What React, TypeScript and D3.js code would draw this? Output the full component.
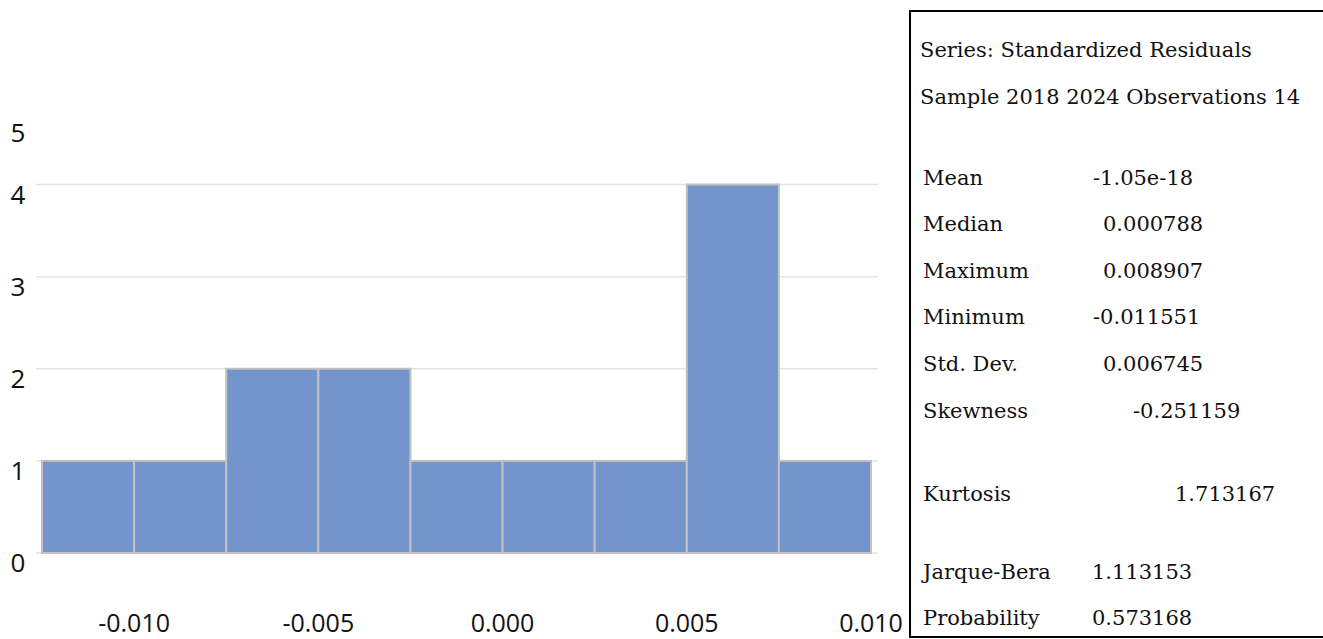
import React from "react";
import * as d3 from "d3";

// Histogram bins (residual value ranges) and counts
const binEdges = [-0.0125, -0.01, -0.0075, -0.005, -0.0025, 0, 0.0025, 0.005, 0.0075, 0.01];
const counts = [1, 1, 2, 2, 1, 1, 1, 4, 1];
const xTicks = [-0.01, -0.005, 0, 0.005, 0.01];
const xTickLabels = ["-0.010", "-0.005", "0.000", "0.005", "0.010"];
const yTicks = [0, 1, 2, 3, 4, 5];
const gridTicks = [0, 1, 2, 3, 4];

const headerLines = ["Series: Standardized Residuals", "Sample 2018 2024 Observations 14"];
const statNames = ["Mean", "Median", "Maximum", "Minimum", "Std. Dev.", "Skewness", "Kurtosis", "Jarque-Bera", "Probability"];
const statValues = ["-1.05e-18", "0.000788", "0.008907", "-0.011551", "0.006745", "-0.251159", "1.713167", "1.113153", "0.573168"];

// layout
const W = 1323, H = 639;
const statY = [184.5, 231, 277.7, 324, 370.7, 417.7, 501, 579, 625];
const statValueX = [1093, 1103, 1103, 1093, 1103, 1133, 1175, 1092, 1092];

export default function App() {
  const x = d3.scaleLinear().domain([binEdges[0], binEdges[binEdges.length - 1]]).range([42, 871]);
  const y = d3.scaleLinear().domain([0, 4]).range([553, 184.5]);
  const plotTop = 122.5;
  const tickFont = "'Open Sans', sans-serif";
  const serif = "'DejaVu Serif', serif";

  return (
    <svg width={W} height={H} style={{ position: "absolute", left: 0, top: 0, background: "#fff" }}>
      <rect x={0} y={0} width={W} height={H} fill="#fff" />
      {gridTicks.map((t) => (
        <line key={t} x1={36} x2={878} y1={y(t)} y2={y(t)} stroke="#e3e3e3" strokeWidth={1.5} />
      ))}
      {counts.map((c, i) => (
        <rect
          key={i}
          x={x(binEdges[i])}
          y={y(c)}
          width={x(binEdges[i + 1]) - x(binEdges[i])}
          height={y(0) - y(c)}
          fill="#7395cb"
          stroke="#c2c2c2"
          strokeWidth={2}
        />
      ))}
      {yTicks.map((t) => (
        <text key={t} x={18} y={Math.max(y(t), plotTop) + 19} textAnchor="middle" fontFamily={tickFont} fontSize={26} fill="#111">
          {t}
        </text>
      ))}
      {xTicks.map((t, i) => (
        <text key={i} x={x(t)} y={632} textAnchor="middle" fontFamily={tickFont} fontSize={25} fill="#111">
          {xTickLabels[i]}
        </text>
      ))}
      <rect x={910} y={11} width={500} height={626} fill="none" stroke="#000" strokeWidth={2} />
      {headerLines.map((l, i) => (
        <text key={i} x={920} y={56.5 + i * 47.5} fontFamily={serif} fontSize={21} fill="#111">
          {l}
        </text>
      ))}
      {statNames.map((n, i) => (
        <g key={n}>
          <text x={923} y={statY[i]} fontFamily={serif} fontSize={21} fill="#111">{n}</text>
          <text x={statValueX[i]} y={statY[i]} fontFamily={serif} fontSize={21} fill="#111">{statValues[i]}</text>
        </g>
      ))}
    </svg>
  );
}
